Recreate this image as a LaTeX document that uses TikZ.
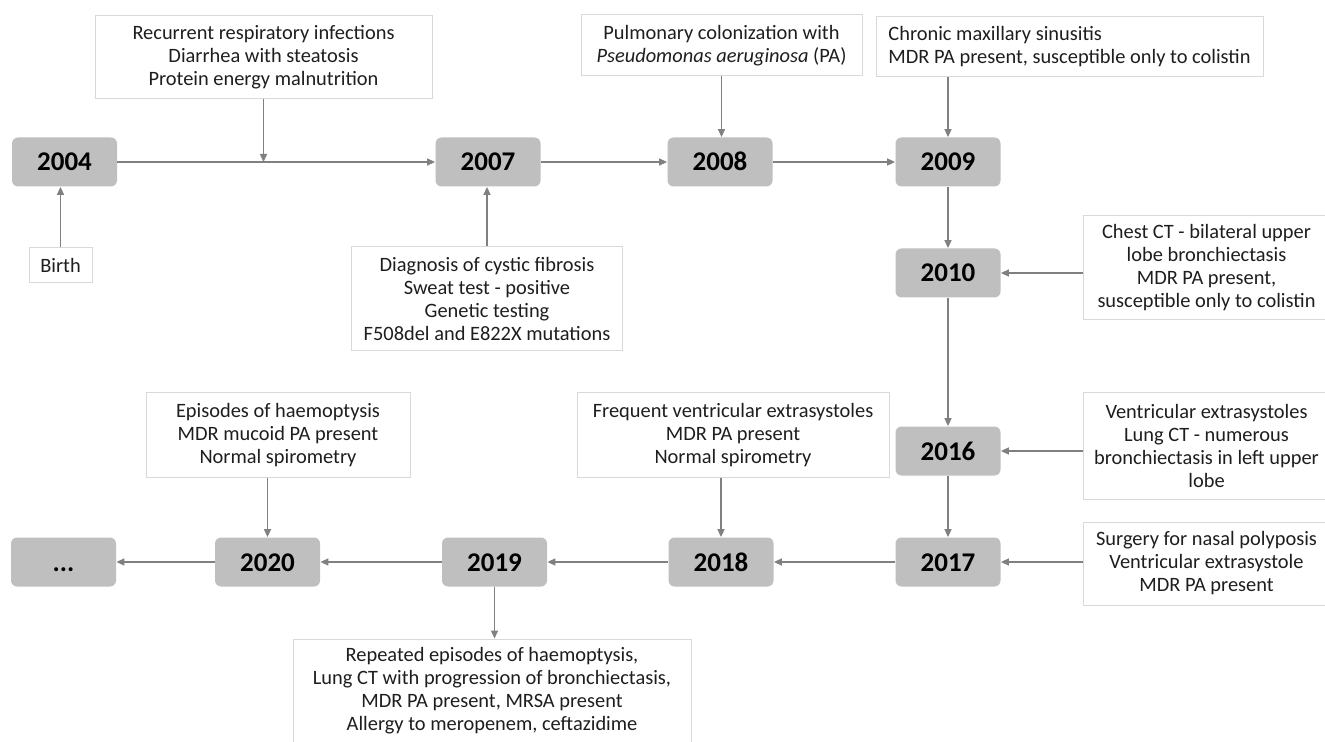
\documentclass[tikz,border=0pt]{standalone}
\usepackage{fontspec}
\setmainfont{Carlito}
\usepackage{tikz}
\usetikzlibrary{positioning, arrows.meta}

\definecolor{yeargray}{RGB}{191,191,191}
\definecolor{linegray}{RGB}{128,128,128}
\definecolor{boxgray}{RGB}{217,217,217}
\definecolor{textgray}{RGB}{30,30,30}

\begin{document}
\begin{tikzpicture}
        [x=0.5pt, y=-0.5pt,
         year/.style={rounded corners=3pt, fill=yeargray, minimum width=52.5pt,
                      minimum height=24.5pt, inner sep=0pt, text height=9pt, text depth=0pt,
                      font=\fontsize{13.5}{13.5}\selectfont\bfseries},
         note/.style={draw=boxgray, line width=0.5pt, fill=white, inner sep=0pt,
                      align=center, text=textgray,
                      font=\fontsize{10.2}{11.5}\selectfont},
         every edge/.style={draw=linegray, line width=0.75pt},
         >={Triangle[length=4pt, width=3.5pt]}]
        \useasboundingbox (0,0) rectangle (1325,742);

        % years
        \node[year] (y04) at (64.5,162) {2004};
        \node[year] (y07) at (488,162) {2007};
        \node[year] (y08) at (720,162) {2008};
        \node[year] (y09) at (948,162) {2009};
        \node[year] (y10) at (948,273) {2010};
        \node[year] (y16) at (948,451) {2016};
        \node[year] (y17) at (948,562) {2017};
        \node[year] (y18) at (721,562) {2018};
        \node[year] (y19) at (494.5,562) {2019};
        \node[year] (y20) at (267.5,562) {2020};
        \node[year] (ynext) at (63.5,562) {...};

        % notes
        \node[note, minimum width=168.5pt, minimum height=41.5pt] (recur) at (263.5,57.5)
            {Recurrent respiratory infections\\Diarrhea with steatosis\\Protein energy malnutrition};
        \node[note, minimum width=31.5pt, minimum height=17.5pt] (birth) at (60.5,265.5) {Birth};
        \node[note, minimum width=135.5pt, minimum height=52pt] (diag) at (487,299)
            {Diagnosis of cystic fibrosis\\Sweat test - positive\\Genetic testing\\F508del and E822X mutations};
        \node[note, minimum width=140.5pt, minimum height=30.5pt] (pulm) at (721.5,45.5)
            {Pulmonary colonization with\\\textit{Pseudomonas aeruginosa} (PA)};
        \node[note, align=left, minimum width=193.5pt, minimum height=30pt] (chron) at (1069.5,47)
            {Chronic maxillary sinusitis\\MDR PA present, susceptible only to colistin};
        \node[note, minimum width=123.5pt, minimum height=52pt] (chest) at (1206.5,268)
            {Chest CT - bilateral upper\\lobe bronchiectasis\\MDR PA present,\\susceptible only to colistin};
        \node[note, minimum width=123.5pt, minimum height=53pt] (ventr) at (1206.5,446)
            {Ventricular extrasystoles\\Lung CT - numerous\\bronchiectasis in left upper\\lobe};
        \node[note, minimum width=123.5pt, minimum height=41.5pt] (surg) at (1206.5,563.5)
            {Surgery for nasal polyposis\\Ventricular extrasystole\\MDR PA present};
        \node[note, minimum width=156pt, minimum height=42pt] (freq) at (733,435)
            {Frequent ventricular extrasystoles\\MDR PA present\\Normal spirometry};
        \node[note, minimum width=132pt, minimum height=42pt] (epis) at (278,435)
            {Episodes of haemoptysis\\MDR mucoid PA present\\Normal spirometry};
        \node[note, minimum width=199pt, minimum height=52pt] (repeat) at (492,691)
            {Repeated episodes of haemoptysis,\\Lung CT with progression of bronchiectasis,\\MDR PA present, MRSA present\\Allergy to meropenem, ceftazidime};

        % timeline
        \path [->] (y04) edge (y07);
        \path [->] (y07) edge (y08);
        \path [->] (y08) edge (y09);
        \path [->] (y09) edge (y10);
        \path [->] (y10) edge (y16);
        \path [->] (y16) edge (y17);
        \path [->] (y17) edge (y18);
        \path [->] (y18) edge (y19);
        \path [->] (y19) edge (y20);
        \path [->] (y20) edge (ynext);

        % notes to years
        \path [->] (recur) edge (recur |- y04);
        \path [->] (birth) edge (birth |- y04.south);
        \path [->] (diag) edge (diag |- y07.south);
        \path [->] (pulm) edge (pulm |- y08.north);
        \path [->] (chron.south -| y09) edge (y09);
        \path [->] (chest.west |- y10) edge (y10);
        \path [->] (ventr.west |- y16) edge (y16);
        \path [->] (surg.west |- y17) edge (y17);
        \path [->] (freq.south -| y18) edge (y18);
        \path [->] (epis.south -| y20) edge (y20);
        \path [->] (y19) edge (y19 |- repeat.north);
    \end{tikzpicture}
\end{document}
